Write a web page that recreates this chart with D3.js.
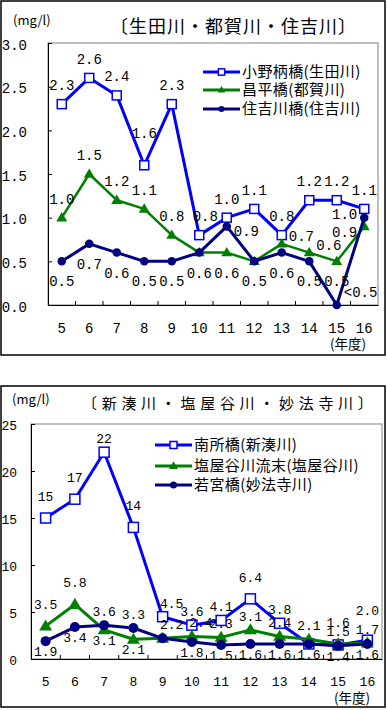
<!DOCTYPE html>
<html>
<head>
<meta charset="utf-8">
<script src="https://cdn.jsdelivr.net/npm/d3@7"></script>
<style>
body{margin:0;background:#fff}
svg{display:block}
</style>
</head>
<body>
<div id="chart"></div>
<script>
// fiscal years (Heisei)
const years = ["5","6","7","8","9","10","11","12","13","14","15","16"];

// upper chart : 生田川・都賀川・住吉川 (mg/l)
const onoeValues      = [2.3,2.6,2.4,1.6,2.3,0.8,1.0,1.1,0.8,1.2,1.2,1.1];
const shoheiValues    = [1.0,1.5,1.2,1.1,0.8,0.6,0.6,0.5,0.7,0.6,0.5,0.9];
const sumiyoshiValues = [0.5,0.7,0.6,0.5,0.5,0.6,0.9,0.5,0.6,0.5,0.0,1.0];
const upperTicks = [0,0.5,1,1.5,2,2.5,3];

// lower chart : 新湊川・塩屋谷川・妙法寺川 (mg/l)
const nanshoValues   = [15,17,22,14,4.5,3.6,4.1,6.4,3.8,1.6,1.5,2.0];
const shioyaValues   = [3.5,5.8,3.1,2.1,2.2,2.4,2.3,3.1,2.4,2.1,1.6,1.7];
const wakamiyaValues = [1.9,3.4,3.6,3.3,2.2,1.8,1.5,1.6,1.6,1.6,1.4,1.6];
const lowerTicks = [0,5,10,15,20,25];

// where each data label sits: t=above, tr=above shifted right, T/TT=higher above,
// b=below, r/ru/rd=right (level/up/down), l/lu/ld=left, n=hidden
const onoePos      = ["t","t","t","T","t","tr","t","t","t","t","t","t"];
const shoheiPos    = ["t","t","t","t","t","n","b","n","r","r","b","ld"];
const sumiyoshiPos = ["b","b","b","b","b","b","rd","b","b","b","ru","lu"];
const nanshoPos    = ["T","T","t","T","tr","t","t","T","t","n","t","TT"];
const shioyaPos    = ["T","T","b","b","n","tr","t","t","t","t","T","t"];
const wakamiyaPos  = ["b","b","t","t","tr","b","b","b","b","b","b","b"];

const MONO = "'Liberation Mono','DejaVu Sans Mono',monospace";
const JP = "'Noto Sans CJK JP','Noto Sans',sans-serif";

const f1 = d3.format(".1f");

const upper = {
    frame: {x:1, y:1, w:384, h:354},
    plot: {left:48, right:378, top:43, bottom:305},
    unit: {x:13, y:25},
    title: {text:"〔生田川・都賀川・住吉川〕", x:110, y:33, size:18, spacing:1},
    yearLabel: {x:330, y:349},
    ticks: upperTicks, yPad:21, xLabelY:28,
    numSize:14,
    tickFmt: f1,
    fmt: d => d === 0 ? "<0.5" : f1(d),
    legend: {x0:203, x1:240, ys:[72,90,109]},
    off: {t:-14, T:-27, TT:-34, b:25, side:7, shift:6},
    series: [
        {name:"小野柄橋(生田川)", values:onoeValues, pos:onoePos, color:"#0000ff", width:3, marker:"square", size:9},
        {name:"昌平橋(都賀川)", values:shoheiValues, pos:shoheiPos, color:"#008000", width:2.5, marker:"triangle", size:11},
        {name:"住吉川橋(住吉川)", values:sumiyoshiValues, pos:sumiyoshiPos, color:"#000080", width:3, marker:"circle", size:8.5}
    ]
};

const lower = {
    frame: {x:1, y:386, w:384, h:321},
    plot: {left:31, right:382, top:424, bottom:659},
    unit: {x:12, y:404},
    title: {text:"〔新湊川・塩屋谷川・妙法寺川〕", x:82, y:409, size:15, spacing:4.7},
    yearLabel: {x:334, y:703},
    ticks: lowerTicks, yPad:14, xLabelY:27,
    numSize:13,
    tickFmt: d3.format("d"),
    fmt: d => d >= 10 ? d3.format("d")(d) : f1(d),
    legend: {x0:155, x1:192, ys:[445,466,485]},
    off: {t:-9, T:-17, TT:-25, b:15, side:7, shift:9},
    series: [
        {name:"南所橋(新湊川)", values:nanshoValues, pos:nanshoPos, color:"#0000ff", width:3, marker:"square", size:10},
        {name:"塩屋谷川流末(塩屋谷川)", values:shioyaValues, pos:shioyaPos, color:"#008000", width:3, marker:"triangle", size:13},
        {name:"若宮橋(妙法寺川)", values:wakamiyaValues, pos:wakamiyaPos, color:"#000080", width:3, marker:"circle", size:10}
    ]
};

const svg = d3.select("#chart").append("svg")
    .attr("width", 387)
    .attr("height", 710);

svg.append("rect").attr("width",387).attr("height",710).attr("fill","#fff");

function drawMarker(g, s, x, y, scale){
    const k = scale || 1;
    if (s.marker === "square") {
        const a = s.size * k;
        g.append("rect")
            .attr("x", x - a/2).attr("y", y - a/2)
            .attr("width", a).attr("height", a)
            .attr("fill", "#fff").attr("stroke", s.color).attr("stroke-width", 1.5);
    } else if (s.marker === "triangle") {
        const a = s.size * k, h = a * 0.85;
        g.append("path")
            .attr("d", `M${x},${y - h*0.6}L${x + a/2},${y + h*0.4}L${x - a/2},${y + h*0.4}Z`)
            .attr("fill", s.color);
    } else {
        g.append("circle")
            .attr("cx", x).attr("cy", y).attr("r", s.size * k / 2)
            .attr("fill", s.color);
    }
}

function drawChart(cfg){
    const p = cfg.plot;
    const w = p.right - p.left, h = p.bottom - p.top;

    svg.append("rect")
        .attr("x", cfg.frame.x).attr("y", cfg.frame.y)
        .attr("width", cfg.frame.w).attr("height", cfg.frame.h)
        .attr("fill", "none").attr("stroke", "#000").attr("stroke-width", 1.5);

    svg.append("text")
        .attr("x", cfg.unit.x).attr("y", cfg.unit.y)
        .style("font-family", JP).style("font-size", "13px")
        .text("(mg/l)");

    svg.append("text")
        .attr("x", cfg.title.x).attr("y", cfg.title.y)
        .style("font-family", JP).style("font-size", cfg.title.size + "px")
        .style("letter-spacing", cfg.title.spacing + "px")
        .text(cfg.title.text);

    svg.append("text")
        .attr("x", cfg.yearLabel.x).attr("y", cfg.yearLabel.y)
        .style("font-family", JP).style("font-size", "13.5px")
        .text("(年度)");

    const g = svg.append("g").attr("transform", `translate(${p.left},${p.top})`);

    const x = d3.scaleBand().domain(years).range([0, w]);
    const y = d3.scaleLinear().domain(d3.extent(cfg.ticks)).range([h, 0]);

    // plot area border
    g.append("rect")
        .attr("width", w).attr("height", h)
        .attr("fill", "none").attr("stroke", "#808080").attr("stroke-width", 1);

    // y axis (inside ticks)
    const yAxisG = g.append("g")
        .call(d3.axisLeft(y)
            .tickValues(cfg.ticks)
            .tickSizeInner(-4).tickSizeOuter(0)
            .tickPadding(cfg.yPad)
            .tickFormat(cfg.tickFmt));
    yAxisG.select(".domain").attr("stroke", "#000");
    yAxisG.selectAll("text")
        .attr("dy", "0.45em")
        .style("font-family", MONO).style("font-size", cfg.numSize + "px")
        .attr("fill", "#000");

    // x axis: labels at band centres, tick marks at band boundaries
    const xAxisG = g.append("g")
        .attr("transform", `translate(0,${h})`)
        .call(d3.axisBottom(x).tickSize(0).tickSizeOuter(0));
    xAxisG.select(".domain").attr("stroke", "#000");
    xAxisG.selectAll("text")
        .attr("y", cfg.xLabelY).attr("dy", 0)
        .style("font-family", MONO).style("font-size", cfg.numSize + "px")
        .attr("fill", "#000");
    xAxisG.selectAll(".boundTick")
        .data(years.slice(1))
        .join("line")
        .attr("class", "boundTick")
        .attr("x1", d => x(d)).attr("x2", d => x(d))
        .attr("y1", 0).attr("y2", -4)
        .attr("stroke", "#000");

    const cx = i => x(years[i]) + x.bandwidth() / 2;

    // lines and markers
    cfg.series.forEach(s => {
        const line = d3.line()
            .x((d, i) => cx(i))
            .y(d => y(d));
        g.append("path")
            .datum(s.values)
            .attr("d", line)
            .attr("fill", "none")
            .attr("stroke", s.color)
            .attr("stroke-width", s.width)
            .attr("stroke-linejoin", "round");
        const mg = g.append("g");
        s.values.forEach((v, i) => drawMarker(mg, s, cx(i), y(v)));
    });

    // data labels
    const side = {r:[1,-3], ru:[1,-8], rd:[1,10], l:[-1,5], lu:[-1,1], ld:[-1,11]};
    cfg.series.forEach(s => {
        s.values.forEach((v, i) => {
            const pos = s.pos[i];
            if (pos === "n") return;
            const px = cx(i), py = y(v);
            let tx = px, ty = py, anchor = "middle";
            if (pos === "t") ty = py + cfg.off.t;
            else if (pos === "tr") { ty = py + cfg.off.t; tx = px + cfg.off.shift; }
            else if (pos === "T") ty = py + cfg.off.T;
            else if (pos === "TT") ty = py + cfg.off.TT;
            else if (pos === "b") ty = py + cfg.off.b;
            else {
                const [dir, dy] = side[pos];
                tx = px + dir * cfg.off.side;
                ty = py + dy;
                anchor = dir > 0 ? "start" : "end";
            }
            g.append("text")
                .attr("x", tx).attr("y", ty)
                .attr("text-anchor", anchor)
                .style("font-family", MONO).style("font-size", cfg.numSize + "px")
                .text(cfg.fmt(v));
        });
    });

    // legend
    cfg.series.forEach((s, i) => {
        const ly = cfg.legend.ys[i];
        const lg = svg.append("g");
        lg.append("line")
            .attr("x1", cfg.legend.x0).attr("x2", cfg.legend.x1)
            .attr("y1", ly).attr("y2", ly)
            .attr("stroke", s.color).attr("stroke-width", 3);
        drawMarker(lg, s, (cfg.legend.x0 + cfg.legend.x1) / 2, ly, 0.7);
        lg.append("text")
            .attr("x", cfg.legend.x1 + 2).attr("y", ly)
            .attr("dy", "0.36em")
            .style("font-family", JP).style("font-size", "15px")
            .style("letter-spacing", "0.4px")
            .text(s.name);
    });
}

drawChart(upper);
drawChart(lower);
</script>
</body>
</html>
